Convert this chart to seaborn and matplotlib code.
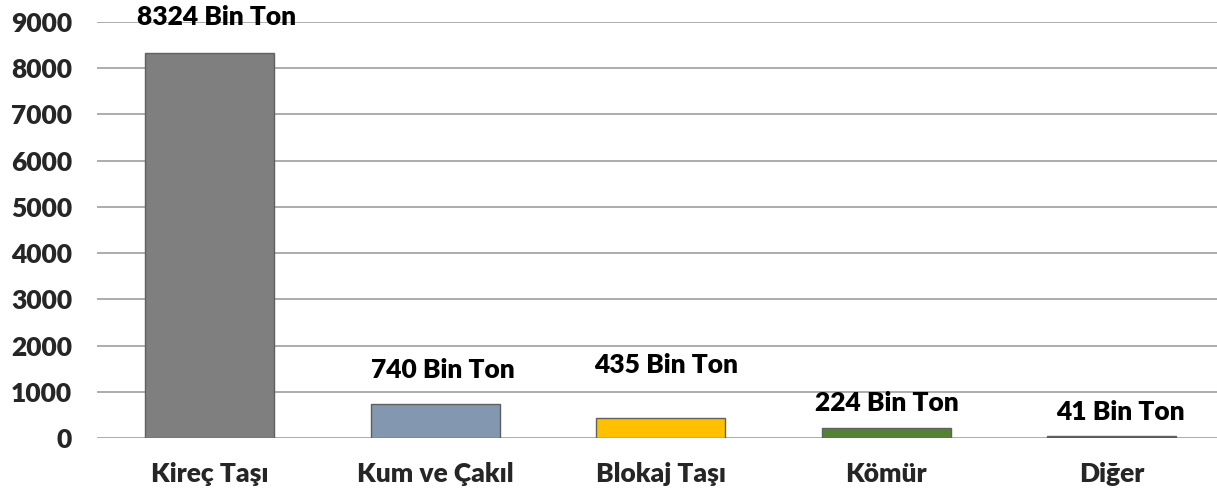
"Bar chart of production by material type"

import pandas as pd
import matplotlib
matplotlib.use('Agg')
import matplotlib.pyplot as plt
import seaborn as sns

# Data
categories = ['Kireç Taşı', 'Kum ve Çakıl', 'Blokaj Taşı', 'Kömür', 'Diğer']
values = [8324, 740, 435, 224, 41]
labels = ['8324 Bin Ton', '740 Bin Ton', '435 Bin Ton', '224 Bin Ton', '41 Bin Ton']
colors = ['#7F7F7F', '#8497B0', '#FFC000', '#548235', '#5F4B8B']
y_ticks = [0, 1000, 2000, 3000, 4000, 5000, 6000, 7000, 8000, 9000]

# label placement tweaks (pixels above bar top), as in the original slide
label_dy = [36, 34, 53, 25, 24]
label_dx = [7, 8, 5, 1, 9]

sns.set_style('white')
plt.rcParams['font.family'] = ['Lato', 'DejaVu Sans']
plt.rcParams['font.weight'] = 'bold'

df = pd.DataFrame({'category': categories, 'value': values})

fig = plt.figure(figsize=(12.17, 4.93), dpi=100)
ax = fig.add_axes([97 / 1217, 1 - 438 / 493, 1 - 97 / 1217, (438 - 22) / 493])

sns.barplot(data=df, x='category', y='value', hue='category', palette=colors,
            legend=False, width=0.572, edgecolor='#606060', linewidth=1.0,
            saturation=1, ax=ax, zorder=3)

ax.set_ylim(0, 9000)
ax.set_xlim(-0.5, 4.5 - 7.5 / 225.5)
ax.set_yticks(y_ticks)
ax.yaxis.grid(True, color='#A6A6A6', linewidth=1.3, zorder=0)
ax.set_axisbelow(True)
for s in ax.spines.values():
    s.set_visible(False)
ax.tick_params(axis='y', length=0, pad=18, labelsize=19)
ax.tick_params(axis='x', length=0, pad=17, labelsize=19)
for t in ax.get_xticklabels() + ax.get_yticklabels():
    t.set_fontweight('heavy')
ax.set_xlabel('')
ax.set_ylabel('')

for i, (v, lab) in enumerate(zip(values, labels)):
    ax.annotate(lab, xy=(i, v), xytext=(label_dx[i], label_dy[i]),
                textcoords='offset pixels', ha='center', va='center',
                fontsize=19, fontweight='heavy', color='black')

fig.savefig('out.png', dpi=100)
